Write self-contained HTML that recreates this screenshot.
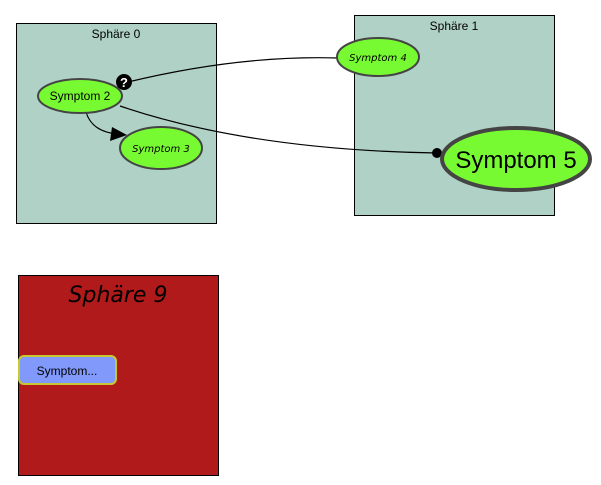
<!DOCTYPE html>
<html><head><meta charset="utf-8"><style>html,body{margin:0;padding:0;background:#fff}svg{display:block}</style></head><body>
<svg width="601" height="485" viewBox="0 0 601 485" xmlns="http://www.w3.org/2000/svg">
<rect x="16.5" y="23.5" width="200" height="200" fill="#b0d1c5" stroke="#000"/>
<text x="116" y="38" font-family="Liberation Sans, sans-serif" font-size="12" text-anchor="middle">Sphäre 0</text>
<rect x="354.5" y="15.5" width="200" height="200" fill="#b0d1c5" stroke="#000"/>
<text x="454" y="30" font-family="Liberation Sans, sans-serif" font-size="12" text-anchor="middle">Sphäre 1</text>
<rect x="18.5" y="275.5" width="200" height="200" fill="#b01a1a" stroke="#000"/>
<text x="118" y="302" font-family="DejaVu Sans, sans-serif" font-style="italic" font-size="22" text-anchor="middle">Sphäre 9</text>
<path d="M128 82 Q240 55 338 58" fill="none" stroke="#000" stroke-width="1.2"/>
<path d="M120 106 Q250 150 437 153" fill="none" stroke="#000" stroke-width="1.2"/>
<path d="M86 112 Q92 132 118 134" fill="none" stroke="#000" stroke-width="1.2"/>
<polygon points="127,135 112,127 110,141" fill="#000"/>
<circle cx="437" cy="153" r="5" fill="#000"/>
<ellipse cx="80" cy="96" rx="42" ry="17" fill="#78fa32" stroke="#444" stroke-width="2"/>
<text x="80" y="100" font-family="Liberation Sans, sans-serif" font-size="12" text-anchor="middle">Symptom 2</text>
<circle cx="124" cy="82" r="8" fill="#000"/>
<text x="124" y="87" font-family="Liberation Sans, sans-serif" font-weight="bold" font-size="13" fill="#fff" text-anchor="middle">?</text>
<ellipse cx="161" cy="148" rx="41" ry="21" fill="#78fa32" stroke="#444" stroke-width="2"/>
<text x="161" y="152" font-family="DejaVu Sans, sans-serif" font-style="italic" font-size="10" text-anchor="middle">Symptom 3</text>
<ellipse cx="378" cy="57" rx="41" ry="19" fill="#78fa32" stroke="#444" stroke-width="2"/>
<text x="378" y="61" font-family="DejaVu Sans, sans-serif" font-style="italic" font-size="10" text-anchor="middle">Symptom 4</text>
<ellipse cx="516" cy="159" rx="74" ry="31" fill="#78fa32" stroke="#444" stroke-width="4"/>
<text x="516" y="168" font-family="Liberation Sans, sans-serif" font-size="24" text-anchor="middle">Symptom 5</text>
<rect x="19" y="356" width="97" height="28" rx="5" fill="#8099fa" stroke="#c8c832" stroke-width="2"/>
<text x="67" y="375" font-family="Liberation Sans, sans-serif" font-size="12" text-anchor="middle">Symptom...</text>
</svg>
</body></html>
